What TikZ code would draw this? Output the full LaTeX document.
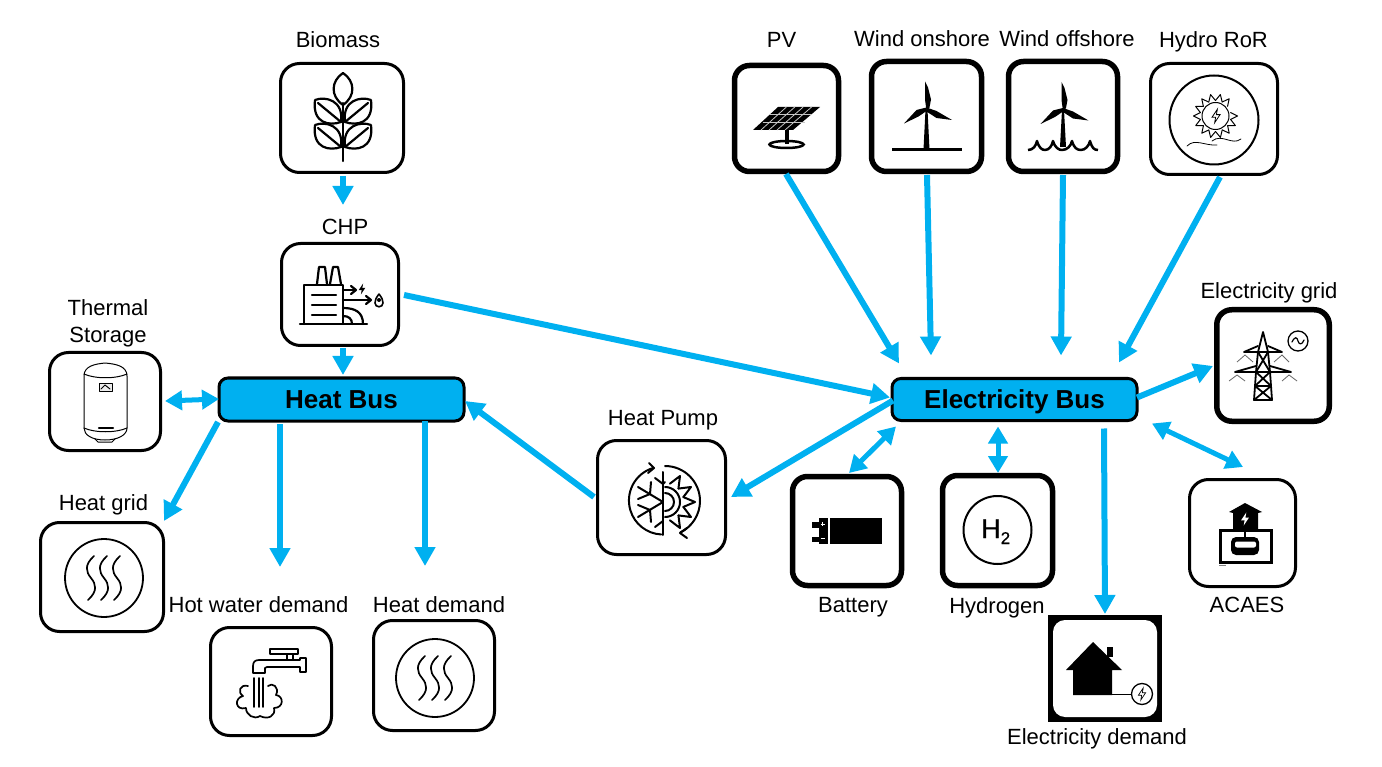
\documentclass[tikz,border=0pt]{standalone}
\usepackage{fontspec}
\setmainfont{Liberation Sans}
\usetikzlibrary{calc,arrows.meta}
\definecolor{busblue}{HTML}{00B0F0}
\tikzset{
  sz/.style 2 args={minimum width=#1pt,minimum height=#2pt,inner sep=0pt,outer sep=0pt},
  thinbox/.style={draw=black,fill=white,line width=3pt,rounded corners=19pt},
  boldbox/.style={draw=black,fill=white,line width=5.5pt,rounded corners=15pt},
  bus/.style={draw=black,fill=busblue,line width=3pt,rounded corners=9pt,text height=19pt,text depth=2pt,font=\fontsize{26}{30}\selectfont\bfseries},
  lab/.style={anchor=base,inner sep=0pt,font=\fontsize{22}{28}\selectfont},
  flow/.style={draw=busblue,line width=6pt,-{Triangle[length=19pt,width=20pt]}},
  duo/.style={draw=busblue,line width=5pt,{Triangle[length=17pt,width=19pt]}-{Triangle[length=17pt,width=19pt]}},
  ico/.style={draw=black,line width=2.2pt,line join=round,line cap=round},
  tn/.style={draw=black,line width=1pt,line join=round,line cap=round},
}
\newcommand{\mybolt}[4]{\begin{scope}[shift={(#1,#2)},scale=#3]\path[#4] (1,-5)--(-3,1)--(-0.3,1)--(-1,5)--(3,-1)--(0.3,-1)--cycle;\end{scope}}
\newcommand{\heaticon}[2]{\begin{scope}[shift={(#1,#2)}]
  \draw[ico,line width=1.8pt] (0,0) circle[radius=39];
  \foreach \dx in {-13,0,13}{
    \draw[ico,line width=1.7pt,shift={(\dx,0)}] (3,-22) .. controls (-7,-13) and (-5,-6) .. (0,0) .. controls (5,6) and (7,13) .. (-3,22);}
\end{scope}}
\newcommand{\turbine}[3]{\begin{scope}[shift={(#1,#2)}]
  \fill (-1,0)--(1,0)--(3,#3)--(-3,#3)--cycle;
  \fill (-1.5,-28)--(1.5,-22)--(4.5,-10)--(3,-2)--(0,1)--(-1.5,-10)--cycle;
  \fill (-22.5,14)--(-10,0.5)--(0,-2)--(0,1.5)--(-8,7)--cycle;
  \fill (0,-2)--(10,1.5)--(25.5,10.5)--(10,8.5)--(0,2)--cycle;
\end{scope}}
\newcommand{\leafpair}[1]{\begin{scope}[shift={(0,#1)}]
  \draw[ico] (315,100) .. controls (325,96) and (344,100) .. (341,122) .. controls (330,126) and (312,124) .. (315,100);
  \draw[ico] (318,103) -- (341,122);
\end{scope}}
\begin{document}
\begin{tikzpicture}[x=1pt,y=-1pt]
\useasboundingbox (0,0) rectangle (1382,767);
% boxes
\node[thinbox,sz={123}{109}] (bio) at (342,118) {};
\node[thinbox,sz={117}{102}] (chp) at (340,294.5) {};
\node[thinbox,sz={111}{98}] (tank) at (105,401.5) {};
\node[thinbox,sz={123}{109}] (hgrid) at (102,577) {};
\node[thinbox,sz={121}{108}] (hotw) at (271,681.5) {};
\node[thinbox,sz={121}{110}] (hdem) at (434,675.5) {};
\node[thinbox,sz={128}{114}] (hp) at (661.5,497.5) {};
\node[boldbox,sz={104}{106}] (pv) at (786.5,118.5) {};
\node[boldbox,sz={110}{110}] (won) at (926.5,116.5) {};
\node[boldbox,sz={109}{110}] (woff) at (1063,116.5) {};
\node[thinbox,sz={127}{111}] (hydro) at (1214,119) {};
\node[boldbox,sz={112.5}{111.5}] (egrid) at (1273,365.5) {};
\node[thinbox,sz={106}{107}] (acaes) at (1242.5,533) {};
\node[boldbox,sz={109}{109}] (batt) at (847,531) {};
\node[boldbox,sz={110}{110}] (hyd) at (997.5,530.5) {};
\node[draw=none,fill=black,sz={114}{107}] (edem) at (1105,668.5) {};
\node[draw=none,fill=white,rounded corners=12pt,sz={104}{97}] (edemin) at (1105,668.5) {};
\node[bus,sz={245}{43}] (hbus) at (341.5,399.5) {Heat Bus};
\node[bus,sz={245}{42}] (ebus) at (1014.5,399.5) {Electricity Bus};
% labels
\node[lab] (tbio) at (338,48) {Biomass};
\node[lab] (tpv) at (781.5,48) {PV};
\node[lab] (twon) at (922,47) {Wind onshore};
\node[lab] (twoff) at (1067,47) {Wind offshore};
\node[lab] (thyd) at (1213.5,48) {Hydro RoR};
\node[lab] (tchp) at (345,235) {CHP};
\node[lab] (tts1) at (108,316) {Thermal};
\node[lab] (tts2) at (108,343) {Storage};
\node[lab] (thg) at (103.5,510) {Heat grid};
\node[lab] (thw) at (258.5,612) {Hot water demand};
\node[lab] (thd) at (439,612) {Heat demand};
\node[lab] (thp) at (663,425) {Heat Pump};
\node[lab] (teg) at (1269,299) {Electricity grid};
\node[lab] (tbat) at (853,612) {Battery};
\node[lab] (thy) at (997,613) {Hydrogen};
\node[lab] (tac) at (1247,612) {ACAES};
\node[lab] (ted) at (1097,744) {Electricity demand};
% Biomass icon
\draw[ico] (343,103) -- (343,161);
\draw[ico] (343,73) .. controls (331,81) and (330,96) .. (343,105) .. controls (356,96) and (355,81) .. (343,73);
\leafpair{0}\leafpair{25}
\begin{scope}[shift={(686,0)},xscale=-1]\leafpair{0}\leafpair{25}\end{scope}
% CHP icon
\draw[ico] (304,324) -- (304,285) -- (343,285) -- (343,324);
\draw[ico] (300,324) -- (367,324);
\draw[ico] (317,284) -- (319,267) -- (325,267) -- (327,284);
\draw[ico] (330,284) -- (333,267) -- (338,267) -- (341,284);
\foreach \yy in {295,305,315} \draw[ico] (312,\yy) -- (336,\yy);
\draw[ico] (343,290) -- (355,290); \draw[ico] (351,286) -- (356,290) -- (351,294);
\mybolt{362}{289}{1.1}{fill=black}
\draw[ico] (343,300) -- (370,300); \draw[ico] (366,296) -- (371,300) -- (366,304);
\draw[ico,line width=1.6pt] (379,294) .. controls (376,298) and (375,300) .. (375,303) .. controls (375,308) and (383,308) .. (383,303) .. controls (383,300) and (382,298) .. (379,294);
\fill (379,300) circle[radius=2];
\draw[ico] (343,308) .. controls (355,308) and (363,312) .. (363,324);
\draw[ico] (343,316) .. controls (349,316) and (352,319) .. (352,324);
% Thermal storage
\begin{scope}[tn]
\draw (84,376) .. controls (84,366) and (95,364) .. (105,363) .. controls (116,364) and (127,366) .. (127,376) -- (127,428) .. controls (127,435) and (118,440) .. (105,440) .. controls (92,440) and (84,435) .. (84,428) -- cycle;
\draw (84,374) .. controls (95,379) and (116,379) .. (127,374);
\draw (84,428) .. controls (95,433) and (116,433) .. (127,428);
\draw (95,439) -- (98,442) -- (112,442) -- (115,439);
\draw[fill=gray!15] (99,383) rectangle (112,391);
\draw (101,389) -- (105,385) -- (110,389);
\end{scope}
\draw[ico] (99,428) -- (113,428);
% heat icons
\heaticon{104}{578}
\heaticon{435}{678}
% Hot water icon
\begin{scope}[ico,line width=1.7pt]
\draw (270,649) rectangle (298,654);
\draw (287,654) -- (287,660) (293,654) -- (293,660);
\draw (253,673) -- (253,666) .. controls (253,662) and (255,660) .. (259,660) -- (300,660) -- (300,658) -- (306,658) -- (306,672) -- (300,672) -- (300,667) -- (267,667) -- (265,668) -- (265,673) -- cycle;
\draw (254,678) -- (254,707) (259,678) -- (259,707) (263,678) -- (263,707);
\draw (248,686) .. controls (240,684) and (237,692) .. (243,696) .. controls (234,698) and (235,711) .. (246,708) .. controls (246,715) and (254,720) .. (260,716) .. controls (268,720) and (276,716) .. (274,708) .. controls (284,708) and (284,696) .. (276,695) .. controls (280,687) and (272,682) .. (268,686);
\end{scope}
% Heat pump icon
\begin{scope}[shift={(663,502)}]
\begin{scope}[ico,line width=2pt]
\draw (0,-30) -- (0,33);
\draw (0,0) -- (-25,-15) (-13,-8) -- (-12,-20) (-13,-8) -- (-25,-3);
\draw (0,0) -- (-25,15) (-13,8) -- (-12,20) (-13,8) -- (-25,3);
\draw (-8,-24) -- (0,-18) -- (2,-20);
\draw (-8,25) -- (0,19);
\draw (2,-15) arc[start angle=-90,end angle=90,radius=15];
\draw (2,-9) arc[start angle=-90,end angle=90,radius=9];
\foreach \a in {-60,-30,0,30,60}{\draw ([shift={(2,0)}]\a-15:19) -- ([shift={(2,0)}]\a:30) -- ([shift={(2,0)}]\a+15:19);}
\draw (-10,-34) arc[start angle=253,end angle=93,radius=34];
\draw (-14,-39) -- (-9,-34) -- (-15,-29);
\draw (2,-36) arc[start angle=-90,end angle=64,radius=35];
\draw (24,26) -- (17,31) -- (24,36);
\end{scope}
\end{scope}
% PV icon
\fill (778,107) -- (820,107) -- (793,130) -- (753,130) -- cycle;
\begin{scope}[gray!45,line width=0.8pt]
\draw (770.3,114.7) -- (812.3,114.7) (762.5,122.3) -- (804.5,122.3);
\foreach \t in {0.2,0.4,0.6,0.8}{\draw ($(778,107)!\t!(820,107)$) -- ($(753,130)!\t!(793,130)$);}
\end{scope}
\draw[line width=4pt] (786.5,130) -- (786.5,144);
\draw[line width=2.5pt] (786.5,144.5) ellipse[x radius=17,y radius=3.5];
% Wind
\turbine{926.5}{109.5}{40}
\draw[line width=3pt] (892,150) -- (962,150);
\turbine{1063}{110}{37}
\draw[line width=2.5pt,line join=round] (1028,150) .. controls (1033,150) and (1036,146) .. (1037,141) .. controls (1039,148) and (1042,150) .. (1045,150) .. controls (1049,150) and (1052,146) .. (1053,141) .. controls (1055,148) and (1059,150) .. (1062,150) .. controls (1067,150) and (1071,146) .. (1072,141) .. controls (1074,148) and (1077,150) .. (1081,150) .. controls (1085,150) and (1089,146) .. (1090,141) .. controls (1092,148) and (1094,150) .. (1098,150);
% Hydro icon
\draw[ico,line width=2pt] (1214,120) circle[radius=44.5];
\begin{scope}[shift={(1215.5,116)}]
\draw[tn] (0,0) circle[radius=13.5];
\foreach \a in {0,25.7,...,334}{\draw[tn] (\a-12.8:15.5) -- (\a:22) -- (\a+12.8:15.5);}
\end{scope}
\mybolt{1216}{116}{1.35}{draw=black,line width=0.8pt}
\draw[tn,line width=0.8pt] (1187,146) .. controls (1195,138) and (1205,146) .. (1217,145);
\draw[tn,line width=0.8pt] (1212,141) .. controls (1222,133) and (1232,146) .. (1241,139);
% Electricity grid icon
\begin{scope}[ico,line width=1.8pt]
\draw (1254,400) -- (1256,372) -- (1258,352) -- (1263,332) -- (1268,352) -- (1270,372) -- (1272,400) -- cycle;
\draw (1244,352) -- (1258,346) (1268,346) -- (1282,352) (1244,352) -- (1282,352);
\draw (1235,372) -- (1256,366) (1270,366) -- (1291,372) (1235,372) -- (1291,372);
\draw (1258,352) -- (1270,372) (1268,352) -- (1256,372);
\draw (1256,372) -- (1271,386) (1270,372) -- (1255,386) (1255,386) -- (1271,386);
\draw (1255,386) -- (1272,400) (1271,386) -- (1254,400);
\draw[line width=1.3pt] (1298,341) circle[radius=10];
\draw[line width=1.2pt] (1292,342) .. controls (1295,336) and (1297,337) .. (1298,341) .. controls (1299,345) and (1302,345) .. (1304,340);
\end{scope}
\begin{scope}[draw=black!60,line width=0.8pt]
\draw (1237,362) -- (1245,355) -- (1253,362);
\draw (1274,362) -- (1282,355) -- (1289,362);
\draw (1229,381) -- (1237,375) -- (1245,381);
\draw (1282,381) -- (1289,375) -- (1297,381);
\end{scope}
% ACAES icon
\fill (1245,503) -- (1262,512) -- (1258,513) -- (1258,530) -- (1233,530) -- (1233,513) -- (1229,512) -- cycle;
\mybolt{1245}{519}{1.3}{fill=white}
\draw[line width=3pt,line join=miter] (1220,530) rectangle (1271,562);
\draw[line width=2pt] (1245,530) -- (1245,537);
\fill[rounded corners=5pt] (1231,537) rectangle (1259,555);
\fill[white,rounded corners=2pt] (1235,541.5) rectangle (1256,547.5);
\draw[gray,line width=0.8pt] (1219,565) -- (1226,565);
% Battery icon
\fill (830,518) rectangle (882,544);
\fill (819,518) rectangle (828,544);
\fill (812,522) rectangle (819,528);
\fill (812,537) rectangle (819,542);
\draw[white,line width=0.9pt] (820.5,524) -- (824.5,524) (822.5,522) -- (822.5,526) (820.5,538) -- (824.5,538);
% Hydrogen icon
\draw[ico,line width=2pt] (997.5,530) circle[radius=34];
\node[anchor=base west,inner sep=0pt,font=\fontsize{27}{30}\selectfont] (htext) at (981,538) {\fontspec[FakeBold=0.6]{Liberation Sans}H\raisebox{-6pt}{\fontsize{17}{17}\selectfont 2}};
% Electricity demand icon
\fill (1093,642) -- (1122,670) -- (1112,670) -- (1112,695) -- (1073,695) -- (1073,670) -- (1066,670) -- cycle;
\fill (1107,647) rectangle (1113,657);
\draw[line width=1pt] (1112,694) -- (1132,694);
\draw[line width=1.3pt] (1142,694) circle[radius=10.5];
\mybolt{1142}{694}{1.2}{draw=black,line width=0.7pt}
% connectors
\draw[flow] ($(bio)+(1,58)$) -- ($(chp)+(3,-89.5)$);
\draw[flow] ($(chp)+(3,53.5)$) -- ($(hbus)+(1.5,-24.5)$);
\draw[flow] ($(chp)+(64,0.5)$) -- ($(ebus)+(-124.5,-2)$);
\draw[flow] ($(pv)+(-0.5,55.5)$) -- ($(ebus)+(-115.5,-36)$);
\draw[flow] ($(won)+(0.5,58.5)$) -- ($(ebus)+(-83.5,-44)$);
\draw[flow] ($(woff)+(0,58.5)$) -- ($(ebus)+(46.5,-44)$);
\draw[flow] ($(hydro)+(6,58)$) -- ($(ebus)+(104.5,-37)$);
\draw[flow] ($(ebus)+(122.5,-2)$) -- ($(egrid)+(-60,0.5)$);
\draw[duo] ($(ebus)+(137.5,24)$) -- ($(acaes)+(0.5,-66)$);
\draw[flow] ($(ebus)+(89.5,29)$) -- ($(edem)+(0,-54.5)$);
\draw[duo] ($(ebus)+(-16.5,27)$) -- ($(hyd)+(0.5,-57.5)$);
\draw[duo] ($(ebus)+(-118.5,27)$) -- ($(batt)+(2,-58)$);
\draw[flow] ($(ebus)+(-121.5,1)$) -- ($(hp)+(69.5,-0.5)$);
\draw[flow] ($(hp)+(-67.5,-0.5)$) -- ($(hbus)+(123.5,1.5)$);
\draw[duo] ($(hbus)+(-122.5,-0.5)$) -- ($(tank)+(60,-0.5)$);
\draw[flow] ($(hbus)+(-123.5,22.5)$) -- ($(hgrid)+(62,-56)$);
\draw[flow] ($(hbus)+(-61.5,24.5)$) -- ($(hotw)+(9,-114.5)$);
\draw[flow] ($(hbus)+(83.5,21.5)$) -- ($(hdem)+(-9,-109.5)$);
\end{tikzpicture}
\end{document}
